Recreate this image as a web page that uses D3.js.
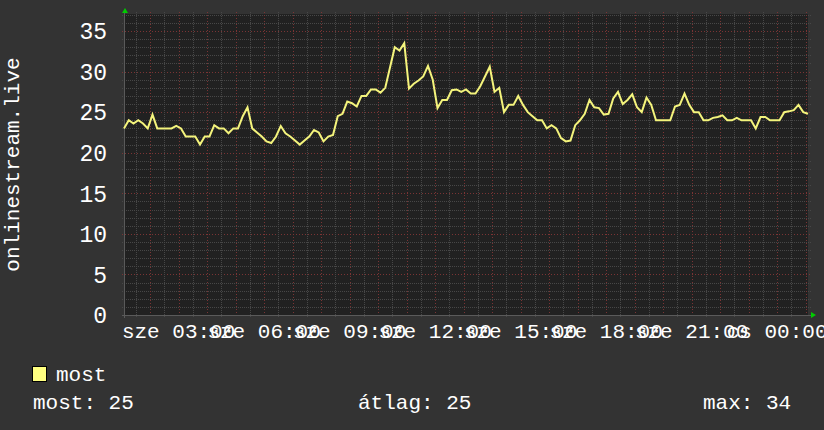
<!DOCTYPE html>
<html>
<head>
<meta charset="utf-8">
<script src="https://cdn.jsdelivr.net/npm/d3@7"></script>
<style>
    html, body { margin: 0; padding: 0; background: #333333; }
    svg { display: block; }
    text { font-family: "Liberation Mono", "DejaVu Sans Mono", monospace; fill: #ffffff; }
</style>
</head>
<body>
<div id="chart"></div>
<script>
// time window of the graph (sze = szerda), one sample every 10 minutes
const startTime = new Date(2024, 0, 3, 1, 5);
const endTime = new Date(2024, 0, 4, 1, 5);
const stepMinutes = 10;

// listeners on onlinestream.live
const listeners = [
    23, 24, 23.6, 24, 23.6, 23, 24.7, 23, 23, 23,
    23, 23.3, 23, 22, 22, 22, 21, 22, 22, 23.4,
    23, 23, 22.4, 23, 23, 24.5, 25.6, 23, 22.5, 22,
    21.4, 21.2, 22, 23.3, 22.4, 22, 21.5, 21, 21.5, 22,
    22.8, 22.5, 21.4, 22, 22.2, 24.5, 24.8, 26.3, 26.1, 25.7,
    27, 27, 27.8, 27.8, 27.4, 28, 30.5, 33, 32.6, 33.5,
    27.9, 28.5, 28.9, 29.4, 30.7, 29, 25.5, 26.5, 26.5, 27.7,
    27.8, 27.5, 27.8, 27.3, 27.3, 28.2, 29.4, 30.6, 27.5, 28,
    25, 25.9, 25.9, 27, 25.9, 25, 24.5, 24, 24, 23,
    23.4, 23, 21.8, 21.4, 21.5, 23.4, 24, 24.8, 26.5, 25.6,
    25.5, 24.7, 24.8, 26.7, 27.5, 26, 26.5, 27.2, 25.6, 25,
    26.8, 25.9, 24, 24, 24, 24, 25.7, 25.9, 27.3, 25.9,
    25, 25, 24, 24, 24.3, 24.4, 24.6, 24, 24, 24.3,
    24, 24, 24, 23, 24.4, 24.4, 24, 24, 24, 25,
    25.1, 25.25, 25.9, 25, 24.8
];

const dayNames = ["v", "h", "k", "sze", "cs", "p", "szo"];
const yMax = 37.1;
const yLabelStep = 5;
const axisTitle = "onlinestream.live";
const seriesName = "most";
const statNames = ["most", "átlag", "max"];
const statValues = [25, 25, 34];

const W = 824, H = 430;
const plot = {left: 124, right: 808, top: 14, bottom: 315};

const svg = d3.select("#chart").append("svg")
    .attr("width", W)
    .attr("height", H);

svg.append("rect")
    .attr("width", W).attr("height", H)
    .attr("fill", "#333333");

const x = d3.scaleTime()
    .domain([startTime, endTime])
    .range([plot.left, plot.right]);

const y = d3.scaleLinear()
    .domain([0, yMax])
    .range([plot.bottom, plot.top]);

// plot background
svg.append("rect")
    .attr("x", plot.left).attr("y", plot.top)
    .attr("width", plot.right - plot.left)
    .attr("height", plot.bottom - plot.top)
    .attr("fill", "#212121");

const grid = svg.append("g").attr("shape-rendering", "crispEdges");
const minorStyle = {stroke: "#474747", dash: "1,1"};
const majorStyle = {stroke: "#7a3434", dash: "1,2"};

// horizontal grid: every unit, red every 5
d3.range(1, Math.floor(yMax) + 1).forEach(v => {
    const s = v % yLabelStep === 0 ? majorStyle : minorStyle;
    grid.append("line")
        .attr("x1", plot.left - 2).attr("x2", plot.right + 3)
        .attr("y1", Math.round(y(v)) + 0.5).attr("y2", Math.round(y(v)) + 0.5)
        .attr("stroke", s.stroke)
        .attr("stroke-dasharray", s.dash);
});

// vertical grid: every 30 min, red on the hour
x.ticks(d3.timeMinute.every(30)).forEach(t => {
    const s = t.getMinutes() === 0 ? majorStyle : minorStyle;
    const px = Math.round(x(t)) + 0.5;
    grid.append("line")
        .attr("x1", px).attr("x2", px)
        .attr("y1", plot.top - 2).attr("y2", plot.bottom + 3)
        .attr("stroke", s.stroke)
        .attr("stroke-dasharray", s.dash);
});

// axes
grid.append("line")
    .attr("x1", plot.left - 2).attr("x2", plot.right + 3)
    .attr("y1", plot.bottom + 0.5).attr("y2", plot.bottom + 0.5)
    .attr("stroke", "#5a5a5a");
grid.append("line")
    .attr("x1", plot.left + 0.5).attr("x2", plot.left + 0.5)
    .attr("y1", plot.top - 2).attr("y2", plot.bottom + 3)
    .attr("stroke", "#5a5a5a");

// green arrows at the axis ends
svg.append("path")
    .attr("d", `M${plot.left - 2},${plot.top - 1} L${plot.left + 4},${plot.top - 1} L${plot.left + 1},${plot.top - 6} Z`)
    .attr("fill", "#00cc00");
svg.append("path")
    .attr("d", `M${plot.right + 3},${plot.bottom - 3} L${plot.right + 3},${plot.bottom + 3} L${plot.right + 8},${plot.bottom} Z`)
    .attr("fill", "#00cc00");

// y labels
svg.append("g").selectAll("text")
    .data(d3.range(0, yMax, yLabelStep))
    .enter().append("text")
    .attr("x", 107)
    .attr("y", d => y(d))
    .attr("dy", "0.36em")
    .attr("text-anchor", "end")
    .attr("font-size", "23px")
    .text(d => d);

// x labels (they overlap in the original too)
svg.append("g").selectAll("text")
    .data(x.ticks(d3.timeHour.every(3)))
    .enter().append("text")
    .attr("x", d => x(d))
    .attr("y", 338)
    .attr("text-anchor", "middle")
    .attr("font-size", "21px")
    .text(d => dayNames[d.getDay()] + " " + d3.timeFormat("%H:%M")(d));

// y title
svg.append("text")
    .attr("transform", `translate(19,${(plot.top + plot.bottom) / 2}) rotate(-90)`)
    .attr("text-anchor", "middle")
    .attr("font-size", "21px")
    .text(axisTitle);

// series line
const points = listeners.map((v, i) => ({
    t: d3.timeMinute.offset(startTime, i * stepMinutes),
    v: v
}));

const line = d3.line()
    .x(d => x(d.t))
    .y(d => y(d.v));

svg.append("path")
    .datum(points)
    .attr("d", line)
    .attr("fill", "none")
    .attr("stroke", "#f4f47c")
    .attr("stroke-width", 2)
    .attr("stroke-linejoin", "miter");

// legend
svg.append("rect")
    .attr("x", 32.5).attr("y", 366.5)
    .attr("width", 14).attr("height", 15)
    .attr("fill", "#ffff80")
    .attr("stroke", "#000000");
svg.append("text")
    .attr("x", 56).attr("y", 381)
    .attr("font-size", "21px")
    .text(seriesName);

const statX = [33, 358, 703];
statNames.forEach((name, i) => {
    svg.append("text")
        .attr("x", statX[i]).attr("y", 409)
        .attr("font-size", "21px")
        .text(name + ": " + statValues[i]);
});
</script>
</body>
</html>
